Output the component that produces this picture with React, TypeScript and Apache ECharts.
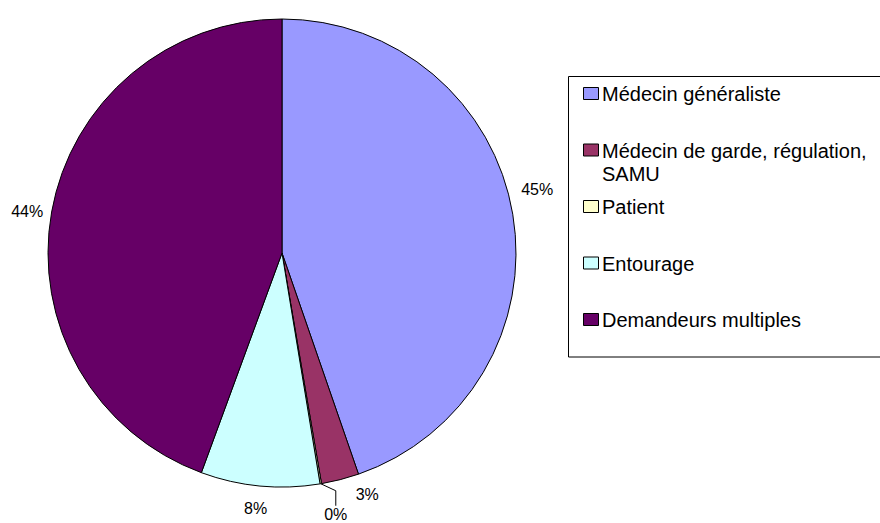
import React, { useEffect, useRef } from 'react';
import * as echarts from 'echarts';

const categories = [
  'Médecin généraliste',
  'Médecin de garde, régulation, SAMU',
  'Patient',
  'Entourage',
  'Demandeurs multiples',
];
const legendLabels = [
  'Médecin généraliste',
  'Médecin de garde, régulation,\nSAMU',
  'Patient',
  'Entourage',
  'Demandeurs multiples',
];
const shares = [44.7, 2.6, 0.1, 8.2, 44.4];
const colors = ['#9999FF', '#993366', '#FFFFCC', '#CCFFFF', '#660066'];

const FONT = '"Liberation Sans", Arial, sans-serif';

export default function App() {
  const ref = useRef<HTMLDivElement>(null);

  useEffect(() => {
    if (!ref.current) return;
    const chart = echarts.init(ref.current, undefined, { renderer: 'svg' });

    const legendY0 = 94;
    const legendStep = 56.5;

    const data = categories.map((name, i) => ({
      name,
      value: shares[i],
      itemStyle: { color: colors[i] },
      labelLine: i === 2 ? { show: true, lineStyle: { color: '#000', width: 1 } } : { show: false },
    }));

    const labelShift: Record<number, [number, number]> = {
      0: [0, -24],
      1: [10, 11],
      3: [12, 19],
      4: [0, 0],
    };

    chart.setOption({
      animation: false,
      backgroundColor: '#fff',
      series: [
        {
          type: 'pie',
          center: [282, 253],
          radius: 234,
          startAngle: 90,
          clockwise: true,
          avoidLabelOverlap: false,
          itemStyle: { borderColor: '#000', borderWidth: 1 },
          emphasis: { disabled: true },
          label: {
            show: true,
            position: 'outside',
            formatter: (p: any) => Math.round(p.percent) + '%',
            color: '#000',
            fontFamily: FONT,
            fontSize: 16,
            distanceToLabelLine: 4.5,
          },
          labelLine: { show: false, length: 4, length2: 0 },
          labelLayout: (params: any) => {
            const i = params.dataIndex;
            const r = params.labelRect;
            if (i === 2) {
              const pts = params.labelLinePoints;
              if (!pts || !pts[0]) return {};
              const p0 = pts[0];
              const p1 = [p0[0] + 15, p0[1] + 7];
              const p2 = [p1[0], p1[1] + 15];
              return {
                x: p2[0],
                y: p2[1] + 9,
                align: 'center',
                verticalAlign: 'middle',
                labelLinePoints: [p0, p1, p2],
              };
            }
            const s = labelShift[i] || [0, 0];
            return {
              x: r.x + s[0],
              y: r.y + r.height / 2 + s[1],
              align: 'left',
              verticalAlign: 'middle',
            };
          },
          data,
        },
      ],
      graphic: [
        {
          type: 'rect',
          shape: { x: 568.5, y: 76.5, width: 330, height: 280.5 },
          style: { fill: '#fff', stroke: '#000', lineWidth: 1 },
        },
        ...categories.map((_, i) => ({
          type: 'rect',
          shape: { x: 583.5, y: legendY0 + i * legendStep - 6.5, width: 15, height: 12 },
          style: { fill: colors[i], stroke: '#000', lineWidth: 1 },
        })),
        ...legendLabels.map((t, i) => ({
          type: 'text',
          x: 602,
          y: legendY0 + i * legendStep - 11.5,
          style: {
            text: t,
            font: '20px ' + FONT,
            fill: '#000',
            lineHeight: 23,
            verticalAlign: 'top',
          },
        })),
      ],
    });

    return () => chart.dispose();
  }, []);

  return (
    <div
      ref={ref}
      style={{ position: 'fixed', left: 0, top: 0, width: 880, height: 523 }}
    />
  );
}
